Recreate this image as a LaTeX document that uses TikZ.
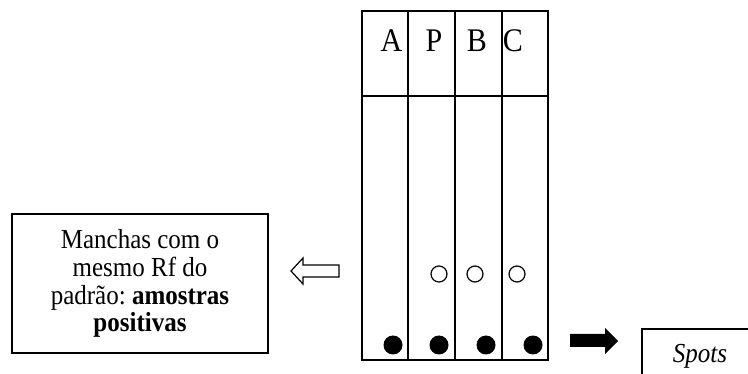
\documentclass[tikz,border=0pt]{standalone}
\usepackage{fontspec}
\usepackage{graphicx}
\setmainfont{Liberation Serif}
\frenchspacing
% text in this figure is set slightly taller than wide
\newcommand{\tall}[1]{\scalebox{1}[1.1]{#1}}
\begin{document}
\begin{tikzpicture}[x=1pt,y=-1pt,
  line/.style={draw=black,line width=1.3pt},
  lane/.style={font=\fontsize{30}{34}\selectfont,anchor=base,inner sep=0pt},
  spot/.style={circle,draw=black,line width=1.2pt,minimum size=16pt,inner sep=0pt},
  dot/.style={circle,fill=black,minimum size=19pt,inner sep=0pt},
  notetext/.style={font=\fontsize{25}{28}\selectfont,anchor=base,inner sep=0pt}]
\useasboundingbox (0,0) rectangle (748,374);
\clip (0,0) rectangle (748,374);

% TLC plate with four lanes
\draw[line] (362,11) rectangle (548,360);
\draw[line] (362,96) -- (548,96);
\foreach \x in {408,455,502} \draw[line] (\x,11) -- (\x,360);

% lane labels
\node[lane] (lA) at (391.5,52) {\tall{A}};
\node[lane] (lP) at (434,52) {\tall{P}};
\node[lane] (lB) at (477,52) {\tall{B}};
\node[lane] (lC) at (513,52) {\tall{C}};

% developed spots
\node[spot] (s1) at (439,274) {};
\node[spot] (s2) at (475,274) {};
\node[spot] (s3) at (517,274) {};

% application points
\node[dot] (d1) at (393,345) {};
\node[dot] (d2) at (439,345) {};
\node[dot] (d3) at (486,345) {};
\node[dot] (d4) at (533,345) {};

% explanation box and its four lines
\node[line,rectangle,minimum width=256pt,minimum height=139pt,inner sep=0pt] (info) at (140,283.5) {};
\node[notetext] (t1) at (140,249) {\tall{Manchas com o}};
\node[notetext] (t2) at (140,277) {\tall{mesmo Rf do}};
\node[notetext] (t3) at (140,304.5) {\tall{padrão: \textbf{amostras}}};
\node[notetext] (t4) at (140,331.5) {\tall{\textbf{positivas}}};

% hollow arrow pointing to the explanation
\draw[line width=1.2pt,line join=miter]
  (339,265) -- (303,265) -- (303,258) -- (291,271) -- (303,284) -- (303,277) -- (339,277) -- cycle;

% solid arrow pointing to the spots label
\fill (570,334) -- (605,334) -- (605,328) -- (618,341) -- (605,354) -- (605,347) -- (570,347) -- cycle;

% spots label box
\draw[line] (642,329) rectangle (760,390);
\node[font=\fontsize{25}{28}\selectfont\itshape,anchor=base,inner sep=0pt] (spots) at (700,363) {\tall{Spots}};
\end{tikzpicture}
\end{document}
